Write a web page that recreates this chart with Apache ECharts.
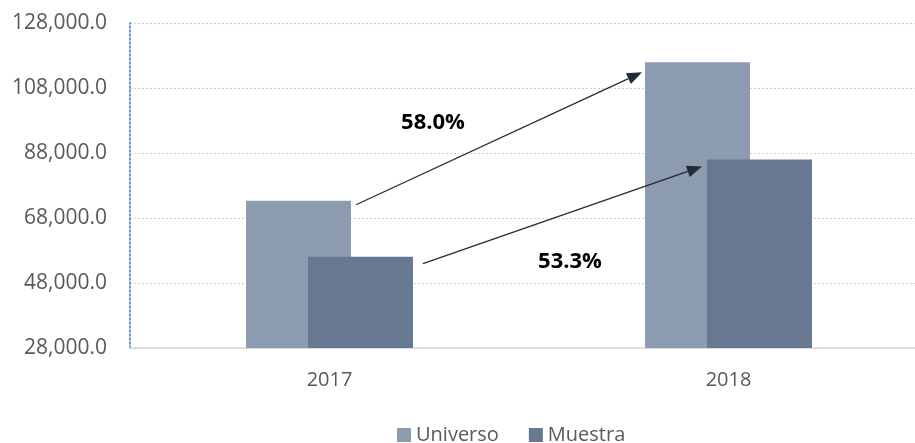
<!DOCTYPE html>
<html>
<head>
<meta charset="utf-8">
<script src="https://cdn.jsdelivr.net/npm/echarts@6/dist/echarts.min.js"></script>
<style>
  html, body { margin: 0; padding: 0; background: #fff; }
  #chart { width: 915px; height: 443px; }
</style>
</head>
<body>
<div id="chart"></div>
<script>
const categories = ['2017', '2018'];
const universo = [73300, 115900];
const muestra = [56100, 86000];
const yMin = 28000;
const yMax = 128000;
const yStep = 20000;
const growthLabels = ['58.0%', '53.3%'];

const FONT = '"Open Sans", "Liberation Sans", sans-serif';
const BAR_W = 105;
const GAP_FRAC = -0.41;

const chart = echarts.init(document.getElementById('chart'), null, { renderer: 'canvas' });

const fmt = v => v.toLocaleString('en-US', { minimumFractionDigits: 1, maximumFractionDigits: 1 });

chart.setOption({
  animation: false,
  backgroundColor: '#ffffff',
  grid: { left: 130, top: 23, width: 798, height: 325, containLabel: false, outerBoundsMode: 'none' },
  legend: {
    left: 392, top: 420,
    itemWidth: 14, itemHeight: 14, itemGap: 30,
    icon: 'rect',
    textStyle: { fontSize: 20, color: '#595959', fontFamily: FONT },
    data: ['Universo', 'Muestra']
  },
  xAxis: {
    type: 'category',
    data: categories,
    axisTick: { show: false },
    axisLine: { lineStyle: { color: '#D9D9D9', width: 1.5 } },
    axisLabel: { fontSize: 20, color: '#595959', fontFamily: FONT, margin: 22 }
  },
  yAxis: {
    type: 'value',
    min: yMin, max: yMax, interval: yStep,
    axisLine: { show: true, lineStyle: { color: '#4472C4', type: [2, 2], width: 1.5 } },
    axisTick: { show: false },
    splitLine: { lineStyle: { color: '#D0D0D0', type: [2, 2], width: 1.2 } },
    axisLabel: { fontSize: 21, color: '#595959', fontFamily: FONT, margin: 23, formatter: fmt }
  },
  series: [
    {
      name: 'Universo', type: 'bar', data: universo,
      barWidth: BAR_W, barGap: (GAP_FRAC * 100) + '%',
      itemStyle: { color: '#8D9BB0' }
    },
    {
      name: 'Muestra', type: 'bar', data: muestra,
      barWidth: BAR_W, barGap: (GAP_FRAC * 100) + '%',
      itemStyle: { color: '#667990' }
    }
  ]
});

function arrow(x1, y1, x2, y2) {
  const dx = x2 - x1, dy = y2 - y1;
  const len = Math.sqrt(dx * dx + dy * dy);
  const ux = dx / len, uy = dy / len;
  const headL = 15, headW = 6;
  const bx = x2 - ux * headL, by = y2 - uy * headL;
  const nx = -uy, ny = ux;
  return [
    { type: 'line', shape: { x1, y1, x2: bx, y2: by }, style: { stroke: '#222A35', lineWidth: 1.3 }, z: 100 },
    { type: 'polygon', shape: { points: [[x2, y2], [bx + nx * headW, by + ny * headW], [bx - nx * headW, by - ny * headW]] }, style: { fill: '#222A35' }, z: 100 }
  ];
}

function drawAnnotations() {
  const gapPx = BAR_W * GAP_FRAC;
  const groupW = BAR_W * 2 + gapPx;
  const px = (i, v) => chart.convertToPixel({ gridIndex: 0 }, [i, v]);
  const u0 = px(0, universo[0]), u1 = px(1, universo[1]);
  const m0 = px(0, muestra[0]), m1 = px(1, muestra[1]);
  const uRight0 = u0[0] - groupW / 2 + BAR_W;
  const uLeft1 = u1[0] - groupW / 2;
  const mRight0 = m0[0] - groupW / 2 + BAR_W + gapPx + BAR_W;
  const mLeft1 = m1[0] - groupW / 2 + BAR_W + gapPx;

  const elements = [];
  elements.push(...arrow(uRight0 + 5, u0[1] + 4, uLeft1 - 3, u1[1] + 10));
  elements.push(...arrow(mRight0 + 10, m0[1] + 7, mLeft1 - 5, m1[1] + 7));
  elements.push({
    type: 'text', z: 100,
    style: { text: growthLabels[0], x: 433, y: 123, align: 'center', verticalAlign: 'middle',
      font: 'bold 22px ' + FONT, fill: '#000000' }
  });
  elements.push({
    type: 'text', z: 100,
    style: { text: growthLabels[1], x: 570, y: 262, align: 'center', verticalAlign: 'middle',
      font: 'bold 22px ' + FONT, fill: '#000000' }
  });
  chart.setOption({ graphic: { elements } });
}
drawAnnotations();
</script>
</body>
</html>
